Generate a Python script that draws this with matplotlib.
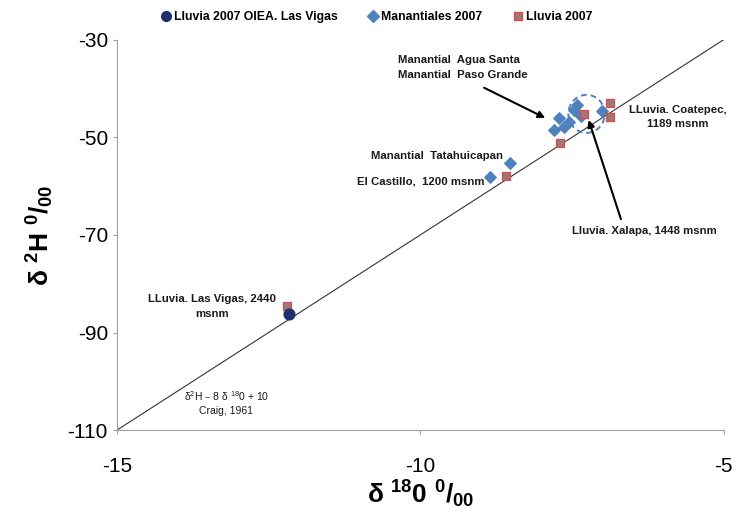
import matplotlib
matplotlib.use("Agg")
import matplotlib.pyplot as plt
from matplotlib.patches import Ellipse
from matplotlib.lines import Line2D

plt.rcParams['font.family'] = ['Liberation Sans', 'DejaVu Sans']
plt.rcParams['axes.unicode_minus'] = False
plt.rcParams['mathtext.default'] = 'regular'

# Lluvia 2007 OIEA. Las Vigas
oiea_x = [-12.16]
oiea_y = [-86.2]

# Manantiales 2007
man_x = [-8.52, -8.85, -7.72, -7.80, -7.63, -7.55, -7.46, -7.41, -7.36, -7.00]
man_y = [-55.3, -58.1, -46.1, -48.6, -47.9, -46.8, -44.4, -43.3, -45.7, -44.7]

# Lluvia 2007
llu_x = [-12.20, -8.59, -7.69, -7.31, -6.87, -6.87]
llu_y = [-84.6, -57.9, -51.1, -45.3, -43.0, -45.9]

# Craig (1961) meteoric water line endpoints
gmwl_x = [-15, -5]
gmwl_y = [-110, -30]

xticks = [-15, -10, -5]
yticks = [-30, -50, -70, -90, -110]

fig = plt.figure(figsize=(7.4, 5.22), dpi=100)
ax = fig.add_axes([0.158, 0.176, 0.820, 0.748])

ax.plot(gmwl_x, gmwl_y, color="#333333", lw=0.8, zorder=1)
ax.scatter(llu_x, llu_y, marker="s", s=28, facecolor="#9a7a7a", edgecolor="#e04848",
           linewidth=0.9, zorder=3)
ax.scatter(man_x, man_y, marker="D", s=34, color="#4f81bd", zorder=2)
ax.scatter(oiea_x, oiea_y, marker="o", s=60, color="#1f2f6b", zorder=4)

ax.add_patch(Ellipse((-7.26, -45.2), 0.6, 7.8, fill=False, ls=(0, (3, 2)),
                     edgecolor="#4f81bd", lw=1.4, zorder=2))

ax.set_xlim(-15, -5)
ax.set_ylim(-110, -30)
ax.set_xticks(xticks)
ax.set_yticks(yticks)
for s in ("top", "right"):
    ax.spines[s].set_visible(False)
for s in ("left", "bottom"):
    ax.spines[s].set_color("#a0a0a0")
ax.tick_params(colors="#a0a0a0", labelcolor="black", labelsize=15, length=3)
ax.tick_params(axis="x", pad=16)

ax.set_xlabel(r"δ $^{18}$0 $^{0}$/$_{00}$", fontsize=19, fontweight="bold", labelpad=2)
ax.set_ylabel(r"δ $^{2}$H $^{0}$/$_{00}$", fontsize=19, fontweight="bold", labelpad=8)

tk = dict(fontsize=8.2, fontweight="bold", color="#1a1a1a")
ax.text(-10.37, -34.1, "Manantial  Agua Santa", ha="left", va="center", **tk)
ax.text(-10.37, -37.3, "Manantial  Paso Grande", ha="left", va="center", **tk)
ax.annotate("", xy=(-7.9, -46.3), xytext=(-8.99, -39.6),
            arrowprops=dict(arrowstyle="-|>", color="black", lw=1.5))
ax.text(-5.76, -45.9, "LLuvia. Coatepec,\n1189 msnm", ha="center", va="center",
        linespacing=1.5, **tk)
ax.text(-6.30, -69.2, "Lluvia. Xalapa, 1448 msnm", ha="center", va="center", **tk)
ax.annotate("", xy=(-7.24, -45.9), xytext=(-6.68, -67.3),
            arrowprops=dict(arrowstyle="-|>", color="black", lw=1.5))
ax.text(-8.64, -53.9, "Manantial  Tatahuicapan", ha="right", va="center", **tk)
ax.text(-8.94, -59.0, "El Castillo,  1200 msnm", ha="right", va="center", **tk)
ax.text(-13.43, -84.7, "LLuvia. Las Vigas, 2440\nmsnm", ha="center", va="center",
        linespacing=1.6, **tk)
ax.text(-13.2, -104.3, "δ$^{2}$H – 8 δ $^{18}$0 + 10\nCraig, 1961", ha="center",
        va="center", fontsize=7.5, linespacing=1.4, color="#1a1a1a")

handles = [
    Line2D([], [], marker="o", ls="", color="#1f2f6b", ms=7),
    Line2D([], [], marker="D", ls="", color="#4f81bd", ms=6),
    Line2D([], [], marker="s", ls="", markerfacecolor="#9a7a7a",
           markeredgecolor="#e04848", ms=5.5),
]
labels = ["Lluvia 2007 OIEA. Las Vigas", "Manantiales 2007", "Lluvia 2007"]
fig.legend(handles, labels, loc="upper left", bbox_to_anchor=(0.2, 1.0), ncol=3,
           frameon=False, handletextpad=0.05, handlelength=1.2, columnspacing=2.3,
           prop=dict(size=8.8, weight="bold"))

fig.savefig("out.png", dpi=100)
